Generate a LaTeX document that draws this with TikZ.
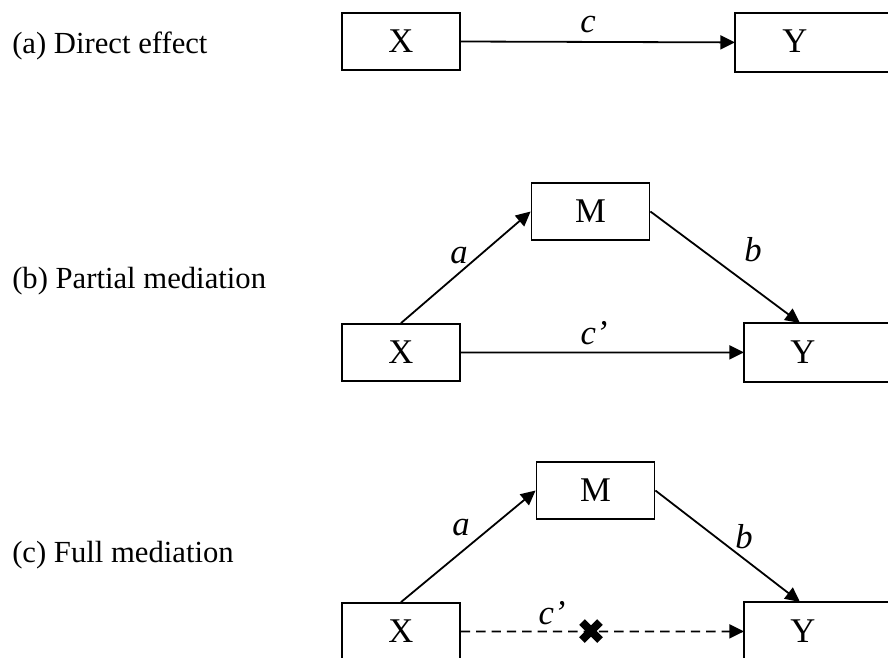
\documentclass[tikz,border=0pt]{standalone}
\usepackage{fontspec}
\setmainfont{Liberation Serif}
\usetikzlibrary{arrows.meta,calc}
\begin{document}
\begin{tikzpicture}[x=0.75pt,y=-0.75pt,
  every node/.style={font=\fontsize{26}{30}\selectfont},
  box/.style={draw,line width=1.35pt,inner sep=0pt,minimum width=88.5pt,minimum height=42.75pt},
  openbox/.style={box,draw=none,anchor=north west,minimum width=250pt},
  edge/.style={line width=1.35pt},
  arr/.style={line width=1.35pt,-{Triangle[length=11pt,width=10.5pt]}},
  dasharr/.style={arr,dash pattern=on 7pt off 4.5pt},
  lbl/.style={font=\fontsize{26}{30}\selectfont\itshape,inner sep=0pt},
  caption/.style={font=\fontsize{23}{27}\selectfont,anchor=base west,inner sep=0pt}]
\useasboundingbox (0,0) rectangle (888,657);
\clip (0,0) rectangle (888,657);

% (a) direct effect
\node[caption] (capa) at (12,53) {(a) Direct effect};
\node[box] (Xa) at (401,41.5) {X};
\node[openbox] (Ya) at (735,13) {};
\draw[edge] (Ya.north east) -- (Ya.north west) -- (Ya.south west) -- (Ya.south east);
\node (Yat) at (795,41.5) {Y};
\draw[arr] (Xa.east) -- (Ya.west);
\node[lbl] (ca) at (588,25) {c};

% (b) partial mediation
\node[caption] (capb) at (12,288) {(b) Partial mediation};
\node[box] (Mb) at (590.5,211.5) {M};
\node[box] (Xb) at (401,352.5) {X};
\node[openbox] (Yb) at (744,323) {};
\draw[edge] (Yb.north east) -- (Yb.north west) -- (Yb.south west) -- (Yb.south east);
\node (Ybt) at (803,352.5) {Y};
\coordinate (Ybin) at (800,323);
\draw[arr] (Xb.north) -- (Mb.west);
\draw[arr] (Mb.east) -- (Ybin);
\draw[arr] (Xb.east) -- (Yb.west);
\node[lbl] (ab) at (459,256) {a};
\node[lbl] (bb) at (753,250) {b};
\node[lbl] (cb) at (594,333) {c’};

% (c) full mediation
\node[caption] (capc) at (12,562) {(c) Full mediation};
\node[box] (Mc) at (595.5,490.5) {M};
\node[box] (Xc) at (401,631.5) {X};
\node[openbox] (Yc) at (744,602) {};
\draw[edge] (Yc.north east) -- (Yc.north west) -- (Yc.south west) -- (Yc.south east);
\node (Yct) at (803,631.5) {Y};
\coordinate (Ycin) at (800,602);
\draw[arr] (Xc.north) -- (Mc.west);
\draw[arr] (Mc.east) -- (Ycin);
\draw[dasharr] (Xc.east) -- (Yc.west);
\node[lbl] (ac) at (461,528) {a};
\node[lbl] (bc) at (744,537) {b};
\node[lbl] (cc) at (552,613) {c’};
\coordinate (cross) at (591,631);
\draw[line width=6pt] ($(cross)+(-9,-9)$) -- ($(cross)+(9,9)$)
  ($(cross)+(-9,9)$) -- ($(cross)+(9,-9)$);
\end{tikzpicture}
\end{document}
